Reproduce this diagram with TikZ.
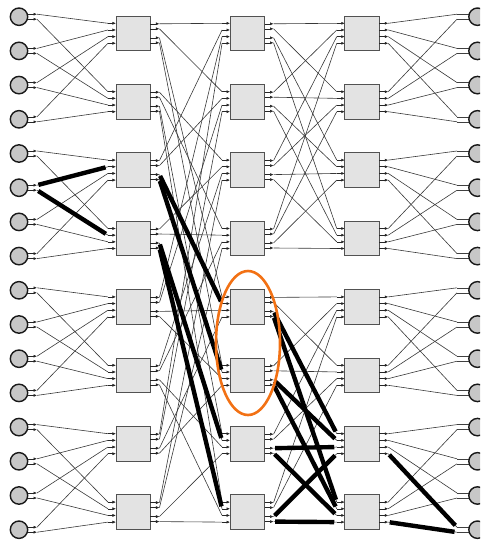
\documentclass[tikz,border=0pt]{standalone}
\usetikzlibrary{arrows.meta,shapes.geometric}
\definecolor{ringorange}{RGB}{242,113,20}
\begin{document}
\begin{tikzpicture}[x=1pt,y=-1pt,
  switchbox/.style={draw=black!68,fill=black!11,line width=0.8pt,minimum width=34.5pt,minimum height=34.5pt,inner sep=0pt,outer sep=0pt},
  term/.style={circle,draw=black!90,fill=black!22,line width=1.4pt,minimum size=17.4pt,inner sep=0pt,outer sep=0pt},
  portarrow/.style={-{Latex[length=3.5pt,width=3pt]},line width=0.55pt,draw=black!85},
  stub/.style={line width=0.6pt,draw=black!75},
  wire/.style={line width=0.6pt,draw=black!78},
  hot/.style={line width=4.4pt,draw=black,shorten <=1.5pt,shorten >=2.5pt},
  ring/.style={ellipse,draw=ringorange,line width=2.6pt,minimum width=64pt,minimum height=144pt,inner sep=0pt}
]
\useasboundingbox (0,0) rectangle (480,541);
\clip (0,0) rectangle (480,541);

% switch boxes and their input ports
\foreach \c/\x in {1/133.2,2/247.3,3/362}{
  \foreach \b in {0,...,7}{
    \pgfmathsetmacro\yc{33.3+68.4*\b}
    \node[switchbox] (B\c-\b) at (\x,\yc) {};
    \foreach \i/\o in {0/-10,1/-3.33,2/3.33,3/10}{
      \pgfmathsetmacro\py{\yc+\o}
      \pgfmathsetmacro\px{\x-25.25}
      \coordinate (I\c-\b-\i) at (\px,\py);
      \draw[portarrow] (I\c-\b-\i) -- (I\c-\b-\i -| B\c-\b.west);
    }
  }
}
% paired output ports (columns 1 and 2)
\foreach \c/\x in {1/133.2,2/247.3}{
  \foreach \b in {0,...,7}{
    \pgfmathsetmacro\yc{33.3+68.4*\b}
    \foreach \k/\o in {0/-9.5,1/-4.5,2/4.5,3/9.5}{
      \pgfmathsetmacro\py{\yc+\o}
      \pgfmathsetmacro\px{\x+26.25}
      \coordinate (O\c-\b-\k) at (\px,\py);
      \draw[portarrow] (O\c-\b-\k -| B\c-\b.east) -- (O\c-\b-\k);
    }
  }
}
% evenly spaced output ports (column 3)
\foreach \b in {0,...,7}{
  \pgfmathsetmacro\yc{33.3+68.4*\b}
  \foreach \k/\o in {0/-10,1/-3.33,2/3.33,3/10}{
    \pgfmathsetmacro\py{\yc+\o}
    \coordinate (O3-\b-\k) at (388.25,\py);
    \draw[portarrow] (O3-\b-\k -| B3-\b.east) -- (O3-\b-\k);
  }
}

% terminals
\foreach \n in {0,...,15}{
  \pgfmathsetmacro\yy{16.7+34.2*\n}
  \pgfmathsetmacro\ya{\yy-2.5}
  \pgfmathsetmacro\yb{\yy+2.5}
  \coordinate (La\n) at (37,\ya);
  \coordinate (Lb\n) at (37,\yb);
  \draw[portarrow] (24,\ya) -- (La\n);
  \draw[portarrow] (24,\yb) -- (Lb\n);
  \node[term] (L\n) at (19,\yy) {};
  \coordinate (Ra\n) at (457,\ya);
  \coordinate (Rb\n) at (457,\yb);
  \draw[stub] (Ra\n) -- (472,\ya);
  \draw[stub] (Rb\n) -- (472,\yb);
  \node[term] (R\n) at (477.5,\yy) {};
}

% terminals <-> first / last switch column
\foreach \n in {0,...,15}{
  \pgfmathtruncatemacro\g{2*floor(\n/4)}
  \pgfmathtruncatemacro\h{\g+1}
  \pgfmathtruncatemacro\i{mod(\n,4)}
  \draw[wire] (La\n) -- (I1-\g-\i);
  \draw[wire] (Lb\n) -- (I1-\h-\i);
  \draw[wire] (O3-\g-\i) -- (Ra\n);
  \draw[wire] (O3-\h-\i) -- (Rb\n);
}
% column 1 -> column 2
\foreach \j in {0,...,7}{
  \foreach \k in {0,...,3}{
    \pgfmathtruncatemacro\tb{4*floor(\k/2)+2*mod(\j,2)+mod(\k,2)}
    \pgfmathtruncatemacro\ti{floor(\j/2)}
    \draw[wire] (O1-\j-\k) -- (I2-\tb-\ti);
  }
}
% column 2 -> column 3
\foreach \j in {0,...,7}{
  \foreach \k in {0,...,3}{
    \pgfmathtruncatemacro\tb{4*floor(\j/4)+\k}
    \pgfmathtruncatemacro\ti{mod(\j,4)}
    \draw[wire] (O2-\j-\k) -- (I3-\tb-\ti);
  }
}

% highlighted paths
\draw[hot] (La5) -- (I1-2-1);
\draw[hot] (Lb5) -- (I1-3-1);
\foreach \j in {2,3}{
  \foreach \k in {2,3}{
    \pgfmathtruncatemacro\tb{4*floor(\k/2)+2*mod(\j,2)+mod(\k,2)}
    \pgfmathtruncatemacro\ti{floor(\j/2)}
    \draw[hot] (O1-\j-\k) -- (I2-\tb-\ti);
  }
}
\foreach \j in {4,...,7}{
  \foreach \k in {2,3}{
    \pgfmathtruncatemacro\tb{4*floor(\j/4)+\k}
    \pgfmathtruncatemacro\ti{mod(\j,4)}
    \draw[hot] (O2-\j-\k) -- (I3-\tb-\ti);
  }
}
\draw[hot] (O3-6-3) -- (Ra15);
\draw[hot] (O3-7-3) -- (Rb15);

% highlight ring
\node[ring] (hl) at (248,343) {};
\end{tikzpicture}
\end{document}
